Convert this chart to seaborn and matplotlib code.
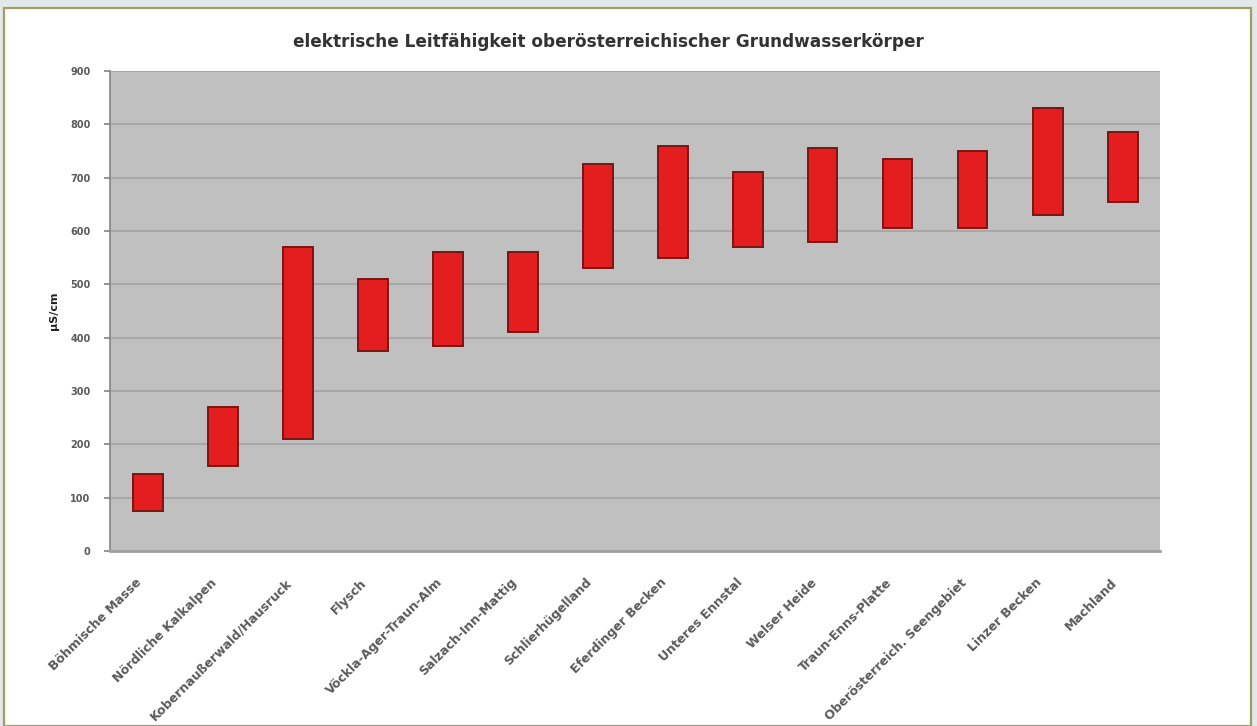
import matplotlib
matplotlib.use("Agg")
import matplotlib.pyplot as plt
from matplotlib.patches import Rectangle
from matplotlib.transforms import ScaledTranslation
import seaborn as sns
import pandas as pd

# Groundwater bodies and their conductivity range (µS/cm)
bodies = [
    "Böhmische Masse",
    "Nördliche Kalkalpen",
    "Kobernaußerwald/Hausruck",
    "Flysch",
    "Vöckla-Ager-Traun-Alm",
    "Salzach-Inn-Mattig",
    "Schlierhügelland",
    "Eferdinger Becken",
    "Unteres Ennstal",
    "Welser Heide",
    "Traun-Enns-Platte",
    "Oberösterreich. Seengebiet",
    "Linzer Becken",
    "Machland",
]
low = [75, 160, 210, 375, 385, 410, 530, 550, 570, 580, 605, 605, 630, 655]
high = [145, 270, 570, 510, 560, 560, 725, 760, 710, 755, 735, 750, 830, 785]
yticks = [0, 100, 200, 300, 400, 500, 600, 700, 800, 900]

df = pd.DataFrame({"body": bodies, "low": low, "high": high})
df["span"] = df["high"] - df["low"]

sns.set_theme(style="white")
plt.rcParams["font.family"] = ["DejaVu Sans"]

fig = plt.figure(figsize=(12.57, 7.26), dpi=100)
fig.patch.set_facecolor("#e3e8eb")
# white chart panel with olive frame
fig.add_artist(Rectangle((4 / 1257, 0), 1247 / 1257, 1 - 8 / 726,
                         transform=fig.transFigure, facecolor="white",
                         edgecolor="#a39d5e", linewidth=1.6, zorder=0))

ax = fig.add_axes([110 / 1257, 1 - 551 / 726, 1050 / 1257, 480 / 726])
ax.set_facecolor("#c0c0c0")

sns.barplot(data=df, x="body", y="span", bottom=df["low"].to_numpy(),
            color="#e41e1e", saturation=1, width=0.4,
            edgecolor="#7a1414", linewidth=1.4, ax=ax, zorder=3)

ax.set_ylim(0, 900)
ax.set_xlim(-0.5, len(bodies) - 0.5)
ax.set_yticks(yticks)
ax.set_yticklabels([str(v) for v in yticks], fontsize=7, fontweight="bold",
                   color="#5a5a5a")
for v in yticks[1:]:
    ax.axhline(v, color="#a2a2a2", linewidth=1.2, zorder=1)

ax.set_xticks(range(len(bodies)))
ax.set_xticklabels(bodies, rotation=45, ha="right", rotation_mode="anchor",
                   fontsize=9, fontweight="bold", color="#5a5a5a")
ax.tick_params(axis="x", length=0, pad=18)
ax.tick_params(axis="y", length=4, pad=10, color="#888888", left=True)
shift = ScaledTranslation(-12 / 100, 0, fig.dpi_scale_trans)
for lbl in ax.get_xticklabels():
    lbl.set_transform(lbl.get_transform() + shift)

for side in ["top", "right"]:
    ax.spines[side].set_visible(False)
ax.spines["left"].set_color("#888888")
ax.spines["bottom"].set_color("#a0a0a0")
ax.spines["bottom"].set_linewidth(2)

ax.set_xlabel("")
ax.set_ylabel("µS/cm", fontsize=8, fontweight="bold", color="#222222", labelpad=8)

fig.text(0.5 * (287 + 930) / 1257, 1 - 42 / 726,
         "elektrische Leitfähigkeit oberösterreichischer Grundwasserkörper",
         ha="center", va="center", fontsize=12.2, fontweight="bold", color="#333333")

fig.savefig("out.png", dpi=100, facecolor=fig.get_facecolor())
